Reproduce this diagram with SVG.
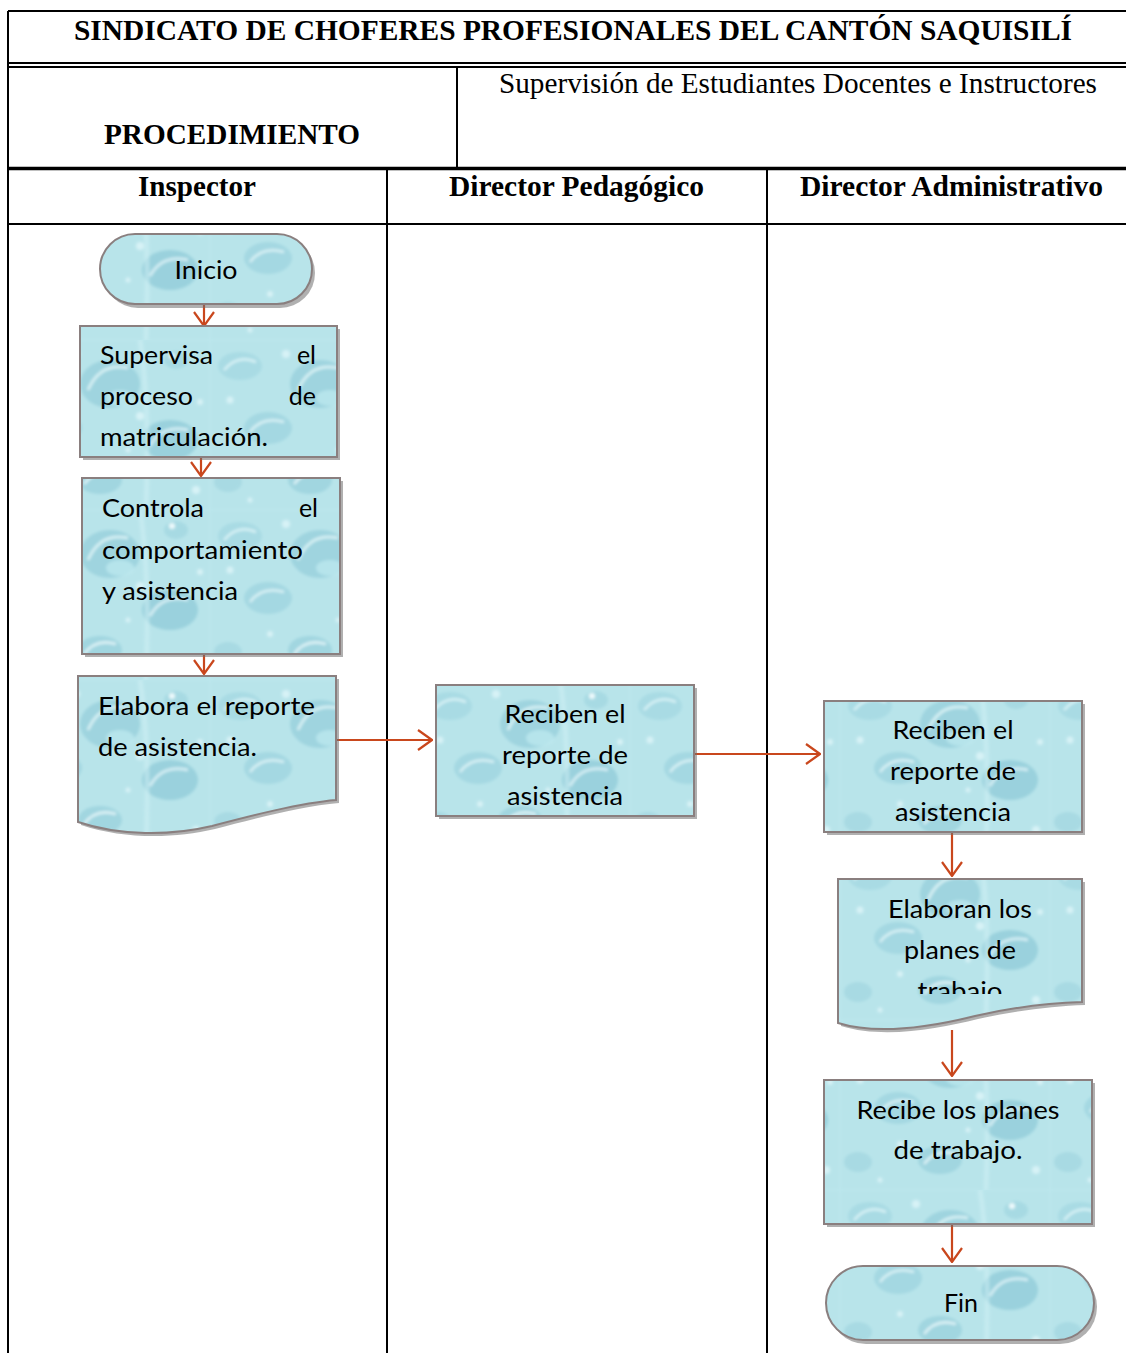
<svg xmlns="http://www.w3.org/2000/svg" width="1126" height="1353" viewBox="0 0 1126 1353">
  <style>
    .grid { stroke: #000; stroke-width: 2; fill: none; }
    .thick { stroke: #000; stroke-width: 3.5; fill: none; }
    .hb { font-family: "Liberation Serif", "Times New Roman", serif; font-weight: bold; font-size: 29px; fill: #000; }
    .hr { font-family: "Liberation Serif", "Times New Roman", serif; font-size: 29px; fill: #000; }
    .shape { fill: url(#drops); stroke: #8a7f7f; stroke-width: 2; }
    .shadow { fill: #6f6f6f; opacity: 0.55; }
    .lbl { font-family: Lato, "Liberation Sans", Arial, sans-serif; font-size: 25px; fill: #000; }
    .mid { text-anchor: middle; }
    .end { text-anchor: end; }
    .flow { stroke: #c9471d; stroke-width: 2.2; fill: none; marker-end: url(#arrow); }
  </style>
  <defs>
    <filter id="soft" x="-10%" y="-10%" width="120%" height="120%">
      <feGaussianBlur stdDeviation="1.6"/>
    </filter>
    <!-- soft water-drop texture for the flowchart shapes -->
    <pattern id="drops" patternUnits="userSpaceOnUse" width="210" height="170">
      <rect width="210" height="170" fill="#bde8ee"/>
      <g filter="url(#soft)">
        <path d="M0,0 H210 V170 H0 Z" fill="#b3e1e8" opacity="0.5"/>
        <ellipse cx="30" cy="26" rx="22" ry="14" fill="#a9dbe4"/>
        <path d="M14,30 Q28,14 46,22" stroke="#e3f7fa" stroke-width="2.5" fill="none" opacity="0.8"/>
        <ellipse cx="110" cy="44" rx="30" ry="24" fill="#9fd4df"/>
        <path d="M88,50 Q100,22 128,28" stroke="#e6f8fa" stroke-width="3" fill="none" opacity="0.75"/>
        <ellipse cx="120" cy="58" rx="14" ry="8" fill="#c7eef3" opacity="0.6"/>
        <ellipse cx="176" cy="20" rx="12" ry="9" fill="#a7dae3"/>
        <circle cx="172" cy="16" r="3" fill="#eefafc"/>
        <ellipse cx="58" cy="88" rx="24" ry="16" fill="#a4d8e2"/>
        <path d="M40,92 Q52,76 74,82" stroke="#e6f8fa" stroke-width="2.5" fill="none" opacity="0.8"/>
        <ellipse cx="170" cy="100" rx="28" ry="20" fill="#9ad1dd"/>
        <path d="M150,106 Q162,84 188,90" stroke="#e4f6f9" stroke-width="3" fill="none" opacity="0.75"/>
        <ellipse cx="18" cy="142" rx="14" ry="10" fill="#a8dae3"/>
        <ellipse cx="100" cy="140" rx="22" ry="14" fill="#a1d6e0"/>
        <path d="M84,144 Q96,128 116,134" stroke="#ecf9fb" stroke-width="2.5" fill="none" opacity="0.8"/>
        <path d="M140,0 Q150,60 146,170" stroke="#d2f1f5" stroke-width="5" fill="none" opacity="0.5"/>
        <circle cx="76" cy="14" r="4" fill="#d7f2f6"/>
        <circle cx="140" cy="76" r="4" fill="#d7f2f6"/>
        <circle cx="20" cy="60" r="3.5" fill="#d7f2f6"/>
        <circle cx="196" cy="150" r="4" fill="#d7f2f6"/>
        <circle cx="60" cy="124" r="3" fill="#d7f2f6"/>
        <circle cx="200" cy="62" r="3" fill="#d7f2f6"/>
        <circle cx="40" cy="160" r="2.5" fill="#d7f2f6"/>
        <circle cx="128" cy="110" r="2.5" fill="#d7f2f6"/>
      </g>
    </pattern>
    <marker id="arrow" viewBox="0 0 16 22" refX="15" refY="11" markerWidth="16" markerHeight="22" markerUnits="userSpaceOnUse" orient="auto">
      <path d="M1,1 L15,11 L1,21" fill="none" stroke="#c9471d" stroke-width="2.2"/>
    </marker>
    <clipPath id="clipSup"><rect x="80" y="326" width="257" height="122"/></clipPath>
    <clipPath id="clipRec1"><rect x="436" y="685" width="258" height="121"/></clipPath>
    <clipPath id="clipRec2"><rect x="824" y="701" width="258" height="121"/></clipPath>
    <clipPath id="clipElab"><rect x="838" y="879" width="244" height="115"/></clipPath>
  </defs>

  <rect width="1126" height="1353" fill="#fff"/>

  <!-- header table -->
  <g id="table">
    <line class="grid" x1="8" y1="11" x2="1126" y2="11"/>
    <line class="grid" x1="8" y1="11" x2="8" y2="1353"/>
    <line class="grid" x1="8" y1="63" x2="1126" y2="63"/>
    <line class="grid" x1="8" y1="67" x2="1126" y2="67"/>
    <line class="grid" x1="457" y1="67" x2="457" y2="168"/>
    <line class="thick" x1="8" y1="168.5" x2="1126" y2="168.5"/>
    <line class="grid" x1="8" y1="224" x2="1126" y2="224"/>
    <line class="grid" x1="387" y1="170" x2="387" y2="1353"/>
    <line class="grid" x1="767" y1="170" x2="767" y2="1353"/>
    <text class="hb" x="74" y="40" textLength="998" lengthAdjust="spacingAndGlyphs">SINDICATO DE CHOFERES PROFESIONALES DEL CANTÓN SAQUISILÍ</text>
    <text class="hr" x="499" y="93" textLength="598" lengthAdjust="spacingAndGlyphs">Supervisión de Estudiantes Docentes e Instructores</text>
    <text class="hb" x="104" y="144" textLength="256" lengthAdjust="spacingAndGlyphs">PROCEDIMIENTO</text>
    <text class="hb" x="138" y="196" textLength="118" lengthAdjust="spacingAndGlyphs">Inspector</text>
    <text class="hb" x="449" y="196" textLength="255" lengthAdjust="spacingAndGlyphs">Director Pedagógico</text>
    <text class="hb" x="800" y="196" textLength="303" lengthAdjust="spacingAndGlyphs">Director Administrativo</text>
  </g>

  <!-- connectors -->
  <g id="connectors">
    <line class="flow" x1="204" y1="305" x2="204" y2="326"/>
    <line class="flow" x1="201" y1="450" x2="201" y2="476"/>
    <line class="flow" x1="204" y1="636" x2="204" y2="674"/>
    <line class="flow" x1="337" y1="740" x2="432" y2="740"/>
    <line class="flow" x1="695" y1="754" x2="820" y2="754"/>
    <line class="flow" x1="952" y1="833" x2="952" y2="876"/>
    <line class="flow" x1="952" y1="1030" x2="952" y2="1076"/>
    <line class="flow" x1="952" y1="1225" x2="952" y2="1262"/>
  </g>

  <!-- Inspector lane -->
  <g id="inicio">
    <rect class="shadow" x="103" y="238" width="212" height="70" rx="35"/>
    <rect class="shape" x="100" y="234" width="212" height="70" rx="35"/>
    <text class="lbl mid" x="206" y="279" textLength="63" lengthAdjust="spacingAndGlyphs">Inicio</text>
  </g>

  <g id="supervisa">
    <rect class="shadow" x="83" y="329" width="257" height="131"/>
    <rect class="shape" x="80" y="326" width="257" height="131"/>
    <g clip-path="url(#clipSup)">
      <text class="lbl" x="100" y="364" textLength="113" lengthAdjust="spacingAndGlyphs">Supervisa</text>
      <text class="lbl end" x="316" y="364">el</text>
      <text class="lbl" x="100" y="405" textLength="93" lengthAdjust="spacingAndGlyphs">proceso</text>
      <text class="lbl end" x="316" y="405">de</text>
      <text class="lbl" x="100" y="446" textLength="168" lengthAdjust="spacingAndGlyphs">matriculación.</text>
    </g>
  </g>

  <g id="controla">
    <rect class="shadow" x="85" y="481" width="258" height="176"/>
    <rect class="shape" x="82" y="478" width="258" height="176"/>
    <text class="lbl" x="102" y="517" textLength="102" lengthAdjust="spacingAndGlyphs">Controla</text>
    <text class="lbl end" x="318" y="517">el</text>
    <text class="lbl" x="102" y="559" textLength="201" lengthAdjust="spacingAndGlyphs">comportamiento</text>
    <text class="lbl" x="102" y="600" textLength="136" lengthAdjust="spacingAndGlyphs">y asistencia</text>
  </g>

  <g id="elabora-reporte">
    <path class="shadow" transform="translate(3,3)" d="M78,676 H336 V800 C300,803 250,816 212,826 C170,836 120,836 78,822 Z"/>
    <path class="shape" d="M78,676 H336 V800 C300,803 250,816 212,826 C170,836 120,836 78,822 Z"/>
    <text class="lbl" x="98" y="715" textLength="217" lengthAdjust="spacingAndGlyphs">Elabora el reporte</text>
    <text class="lbl" x="98" y="756" textLength="159" lengthAdjust="spacingAndGlyphs">de asistencia.</text>
  </g>

  <!-- Director Pedagógico lane -->
  <g id="reciben-pedagogico">
    <rect class="shadow" x="439" y="688" width="258" height="131"/>
    <rect class="shape" x="436" y="685" width="258" height="131"/>
    <g clip-path="url(#clipRec1)">
      <text class="lbl mid" x="565" y="723" textLength="121" lengthAdjust="spacingAndGlyphs">Reciben el</text>
      <text class="lbl mid" x="565" y="764" textLength="126" lengthAdjust="spacingAndGlyphs">reporte de</text>
      <text class="lbl mid" x="565" y="805" textLength="116" lengthAdjust="spacingAndGlyphs">asistencia</text>
    </g>
  </g>

  <!-- Director Administrativo lane -->
  <g id="reciben-administrativo">
    <rect class="shadow" x="827" y="704" width="258" height="131"/>
    <rect class="shape" x="824" y="701" width="258" height="131"/>
    <g clip-path="url(#clipRec2)">
      <text class="lbl mid" x="953" y="739" textLength="121" lengthAdjust="spacingAndGlyphs">Reciben el</text>
      <text class="lbl mid" x="953" y="780" textLength="126" lengthAdjust="spacingAndGlyphs">reporte de</text>
      <text class="lbl mid" x="953" y="821" textLength="116" lengthAdjust="spacingAndGlyphs">asistencia</text>
    </g>
  </g>

  <g id="elaboran-planes">
    <path class="shadow" transform="translate(3,3)" d="M838,879 H1082 V1002 C1050,1003 1010,1008 975,1016 C935,1026 880,1036 838,1023 Z"/>
    <path class="shape" d="M838,879 H1082 V1002 C1050,1003 1010,1008 975,1016 C935,1026 880,1036 838,1023 Z"/>
    <g clip-path="url(#clipElab)">
      <text class="lbl mid" x="960" y="918" textLength="144" lengthAdjust="spacingAndGlyphs">Elaboran los</text>
      <text class="lbl mid" x="960" y="959" textLength="112" lengthAdjust="spacingAndGlyphs">planes de</text>
      <text class="lbl mid" x="960" y="1000" textLength="85" lengthAdjust="spacingAndGlyphs">trabajo</text>
    </g>
  </g>

  <g id="recibe-planes">
    <rect class="shadow" x="827" y="1083" width="268" height="144"/>
    <rect class="shape" x="824" y="1080" width="268" height="144"/>
    <text class="lbl mid" x="958" y="1119" textLength="203" lengthAdjust="spacingAndGlyphs">Recibe los planes</text>
    <text class="lbl mid" x="958" y="1159" textLength="129" lengthAdjust="spacingAndGlyphs">de trabajo.</text>
  </g>

  <g id="fin">
    <rect class="shadow" x="829" y="1270" width="268" height="74" rx="37"/>
    <rect class="shape" x="826" y="1266" width="268" height="74" rx="37"/>
    <text class="lbl mid" x="961" y="1312" textLength="34" lengthAdjust="spacingAndGlyphs">Fin</text>
  </g>
</svg>
